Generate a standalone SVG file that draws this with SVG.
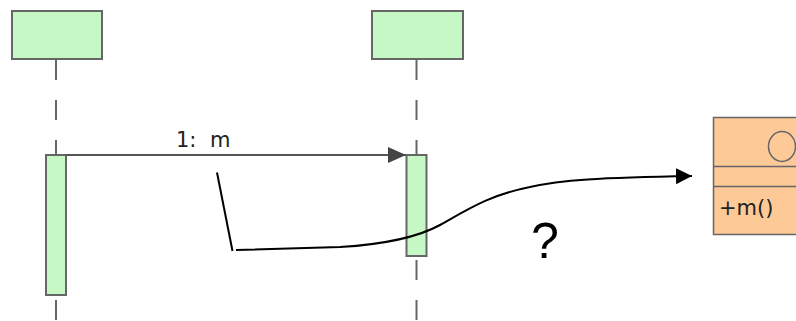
<svg xmlns="http://www.w3.org/2000/svg" width="796" height="321" viewBox="0 0 796 321">
  <defs>
    <style>
      .head { fill: #c6f8c6; stroke: #666; stroke-width: 2; }
      .act { fill: #c6f8c6; stroke: #666; stroke-width: 2; }
      .life { stroke: #666; stroke-width: 2; stroke-dasharray: 20 20; fill: none; }
      .cls { fill: #fdc997; stroke: #666; stroke-width: 1.5; }
      .msg { stroke: #555; stroke-width: 2; fill: none; }
      .ink { stroke: #000; stroke-width: 2; fill: none; }
      .lbl { font-family: "DejaVu Sans", Verdana, sans-serif; fill: #222; }
    </style>
    <marker id="msgArrow" markerUnits="userSpaceOnUse" markerWidth="20" markerHeight="20" refX="18" refY="10" orient="auto">
      <path d="M0,2 L18,10 L0,18 Z" fill="#444"/>
    </marker>
    <marker id="inkArrow" markerUnits="userSpaceOnUse" markerWidth="18" markerHeight="18" refX="16" refY="9" orient="auto">
      <path d="M0,1 L16,9 L0,17 Z" fill="#000"/>
    </marker>
  </defs>
  <rect width="796" height="321" fill="#fff"/>

  <g id="lifeline-a">
    <rect class="head" x="12" y="11" width="90" height="48"/>
    <line class="life" x1="56" y1="60" x2="56" y2="321"/>
    <rect class="act" x="46" y="155" width="20" height="140"/>
  </g>

  <g id="lifeline-b">
    <rect class="head" x="372" y="11" width="91" height="48"/>
    <line class="life" x1="416.5" y1="60" x2="416.5" y2="321"/>
    <rect class="act" x="406.5" y="155" width="20" height="101"/>
  </g>

  <g id="class-node">
    <rect class="cls" x="713.5" y="117.5" width="90" height="117"/>
    <line class="cls" x1="713.5" y1="166.5" x2="803" y2="166.5"/>
    <line class="cls" x1="713.5" y1="186.5" x2="803" y2="186.5"/>
    <ellipse cx="782" cy="146.5" rx="13.5" ry="15" fill="none" stroke="#666" stroke-width="1.5"/>
    <text class="lbl" x="719" y="215" font-size="21">+m()</text>
  </g>

  <g id="connectors">
    <line class="msg" x1="66" y1="155" x2="406" y2="155" marker-end="url(#msgArrow)"/>
    <text class="lbl" x="176" y="147" font-size="21" word-spacing="7">1: m</text>
    <line class="ink" x1="217" y1="172.5" x2="232.5" y2="251" stroke-width="1.6"/>
    <path class="ink" d="M236,250 L340,247 C390,244 420,236 440,225 C470,208 490,195 530,187 C560,180 600,177.5 692,176" marker-end="url(#inkArrow)" stroke-width="1.8"/>
    <text x="531" y="258" font-size="50" font-family="Liberation Sans, Arial, sans-serif" fill="#000">?</text>
  </g>
</svg>
